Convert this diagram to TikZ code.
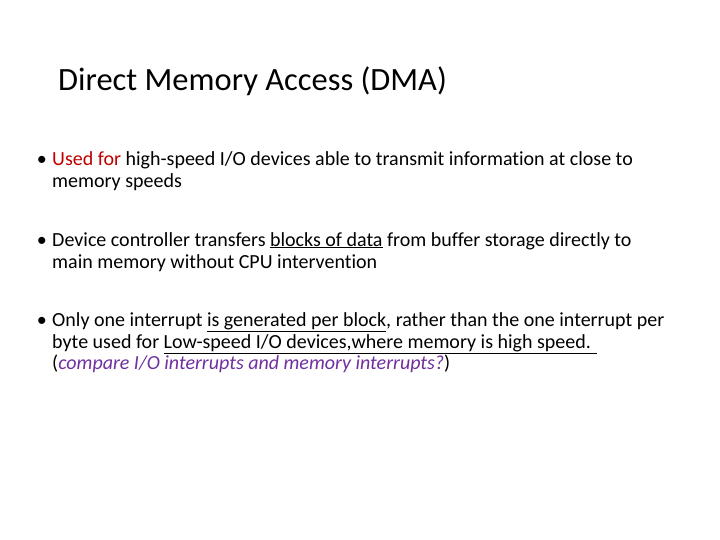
\documentclass[tikz,border=0pt]{standalone}
\usepackage{fontspec}
\setmainfont{Carlito}[Ligatures=NoCommon]
\usetikzlibrary{positioning}
\definecolor{usedred}{RGB}{192,0,0}
\definecolor{askpurple}{RGB}{112,48,160}
\tikzset{
  bullettext/.style={anchor=base west, inner sep=0pt, font=\fontsize{20}{24}\selectfont},
  bulletdot/.style={anchor=base east, inner sep=0pt, font=\fontsize{20}{24}\selectfont}
}
\begin{document}
\begin{tikzpicture}[x=1pt,y=-1pt]
        \useasboundingbox[fill=white] (0,0) rectangle (720,540);

        \node[anchor=base west, inner sep=0pt, font=\fontsize{32.5}{38}\selectfont] (title) at (58,91) {Direct Memory Access (DMA)};

        % bullets, one node per line
        \node[bulletdot] (dotA) at (47,166) {•};
        \node[bullettext] (usedA) at (52,166) {\textcolor{usedred}{Used for} high-speed I/O devices able to transmit information at close to};
        \node[bullettext] (usedB) at (52,188) {memory speeds};
        \node[bulletdot] (dotB) at (47,246) {•};
        \node[bullettext] (ctrlA) at (52,246) {Device controller transfers \underline{blocks of data} from buffer storage directly to};
        \node[bullettext] (ctrlB) at (52,268) {main memory without CPU intervention};
        \node[bulletdot] (dotC) at (47,326) {•};
        \node[bullettext] (intrA) at (52,326) {Only one interrupt \underline{is generated per block}, rather than the one interrupt per};
        \node[bullettext] (intrB) at (52,348) {byte used for \underline{Low-speed I/O devices,where memory is high speed. }};
        \node[bullettext] (intrC) at (52,369) {(\textcolor{askpurple}{\itshape compare I/O interrupts and memory interrupts?})};
\end{tikzpicture}
\end{document}
